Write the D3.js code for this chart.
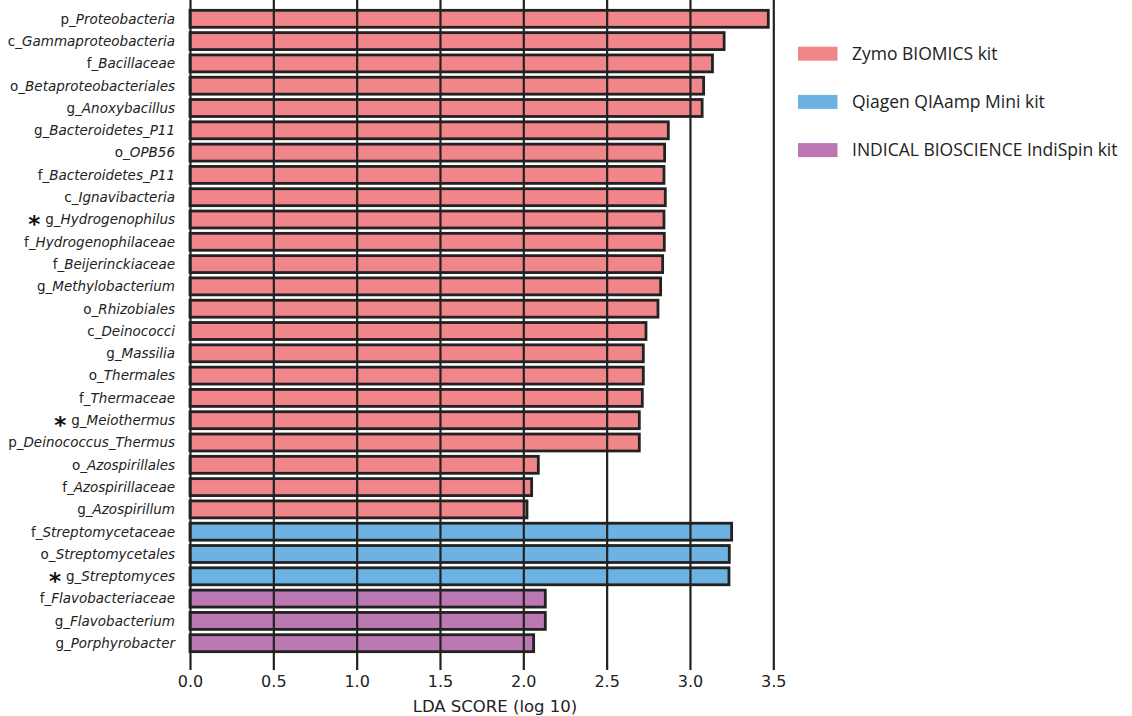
<!DOCTYPE html>
<html>
<head>
<meta charset="utf-8">
<script src="https://cdn.jsdelivr.net/npm/d3@7"></script>
<style>
  html, body { margin: 0; padding: 0; background: #fff; }
  svg { display: block; }
</style>
</head>
<body>
<svg id="chart" width="1132" height="716"></svg>
<script>
// Taxa in plotting order (top to bottom), with rank prefix and name kept apart
const prefixes = ["p_", "c_", "f_", "o_", "g_", "g_", "o_", "f_", "c_", "g_",
                  "f_", "f_", "g_", "o_", "c_", "g_", "o_", "f_", "g_", "p_",
                  "o_", "f_", "g_", "f_", "o_", "g_", "f_", "g_", "g_"];
const names = ["Proteobacteria", "Gammaproteobacteria", "Bacillaceae", "Betaproteobacteriales",
               "Anoxybacillus", "Bacteroidetes_P11", "OPB56", "Bacteroidetes_P11", "Ignavibacteria",
               "Hydrogenophilus", "Hydrogenophilaceae", "Beijerinckiaceae", "Methylobacterium",
               "Rhizobiales", "Deinococci", "Massilia", "Thermales", "Thermaceae", "Meiothermus",
               "Deinococcus_Thermus", "Azospirillales", "Azospirillaceae", "Azospirillum",
               "Streptomycetaceae", "Streptomycetales", "Streptomyces",
               "Flavobacteriaceae", "Flavobacterium", "Porphyrobacter"];
// LDA scores (log 10)
const ldaScores = [3.47, 3.205, 3.135, 3.082, 3.073, 2.870, 2.848, 2.844, 2.852,
                   2.844, 2.846, 2.836, 2.824, 2.808, 2.736, 2.720, 2.720, 2.714, 2.696,
                   2.696, 2.090, 2.050, 2.022,
                   3.250, 3.236, 3.234,
                   2.132, 2.132, 2.062];
// Group (kit) index for each taxon
const groups = [0,0,0,0,0,0,0,0,0,0,0,0,0,0,0,0,0,0,0,0,0,0,0, 1,1,1, 2,2,2];
// Taxa flagged with an asterisk
const starred = ["g_Hydrogenophilus", "g_Meiothermus", "g_Streptomyces"];
// Kits and their colours
const kits = ["Zymo BIOMICS kit", "Qiagen QIAamp Mini kit", "INDICAL BIOSCIENCE IndiSpin kit"];
const kitColors = ["#f0858a", "#6cb2e2", "#bb78b2"];
const xTicks = [0.0, 0.5, 1.0, 1.5, 2.0, 2.5, 3.0, 3.5];

const rows = names.map((n, i) => ({
  id: i,
  prefix: prefixes[i],
  name: n,
  value: ldaScores[i],
  group: groups[i]
}));

const svg = d3.select("#chart");
const ink = "#222222";

const x = d3.scaleLinear().domain([0, 3.5]).range([190, 773.3]);
const step = 22.3;
const firstCenter = 18.8;
const y = d3.scaleBand()
  .domain(rows.map(d => d.id))
  .range([firstCenter - step / 2, firstCenter - step / 2 + step * rows.length])
  .paddingInner(0.24)
  .paddingOuter(0.12);

// Bars
svg.append("g")
  .selectAll("rect")
  .data(rows)
  .join("rect")
  .attr("x", x(0))
  .attr("y", d => y(d.id))
  .attr("width", d => x(d.value) - x(0))
  .attr("height", y.bandwidth())
  .attr("fill", d => kitColors[d.group])
  .attr("stroke", ink)
  .attr("stroke-width", 2.8);

// Vertical grid lines, running through the bars down into the tick marks
const xAxis = d3.axisBottom(x)
  .tickValues(xTicks)
  .tickFormat(d3.format(".1f"))
  .tickSize(670)
  .tickPadding(6);

const axisG = svg.append("g").call(xAxis);
axisG.select(".domain").remove();
axisG.selectAll(".tick line")
  .attr("stroke", ink)
  .attr("stroke-width", 2.2);
axisG.selectAll(".tick text")
  .attr("fill", ink)
  .attr("font-family", "DejaVu Sans")
  .attr("font-size", 16);

// Axis title
svg.append("text")
  .attr("x", 495)
  .attr("y", 712)
  .attr("text-anchor", "middle")
  .attr("font-family", "DejaVu Sans")
  .attr("font-size", 16.5)
  .attr("fill", ink)
  .text("LDA SCORE (log 10)");

// Taxon labels: rank prefix upright, name in italics
const labelSize = 13.5;
const labelY = d => y(d.id) + y.bandwidth() / 2 + labelSize * 0.36;
const labels = svg.append("g")
  .selectAll("text")
  .data(rows)
  .join("text")
  .attr("x", 175)
  .attr("y", labelY)
  .attr("text-anchor", "end")
  .attr("font-family", "DejaVu Sans")
  .attr("font-size", labelSize)
  .attr("fill", ink);

labels.append("tspan").text(d => d.prefix);
labels.append("tspan").attr("font-style", "italic").text(d => d.name);

// Asterisks just left of the flagged labels
labels.filter(d => starred.includes(d.prefix + d.name)).each(function (d) {
  const w = this.getComputedTextLength();
  svg.append("text")
    .attr("x", 175 - w - 5)
    .attr("y", labelY(d) + 8)
    .attr("text-anchor", "end")
    .attr("font-family", "DejaVu Sans")
    .attr("font-weight", "bold")
    .attr("font-size", 23)
    .attr("fill", "#111")
    .text("*");
});

// Legend
const legend = svg.append("g")
  .selectAll("g")
  .data(kits)
  .join("g")
  .attr("transform", (d, i) => `translate(798, ${53.7 + i * 48.2})`);

legend.append("rect")
  .attr("x", 0)
  .attr("y", -7)
  .attr("width", 39.5)
  .attr("height", 14)
  .attr("fill", (d, i) => kitColors[i]);

legend.append("text")
  .attr("x", 54)
  .attr("y", 0)
  .attr("dy", "0.36em")
  .attr("font-family", "Open Sans")
  .attr("font-size", 17.5)
  .attr("fill", ink)
  .text(d => d);
</script>
</body>
</html>
